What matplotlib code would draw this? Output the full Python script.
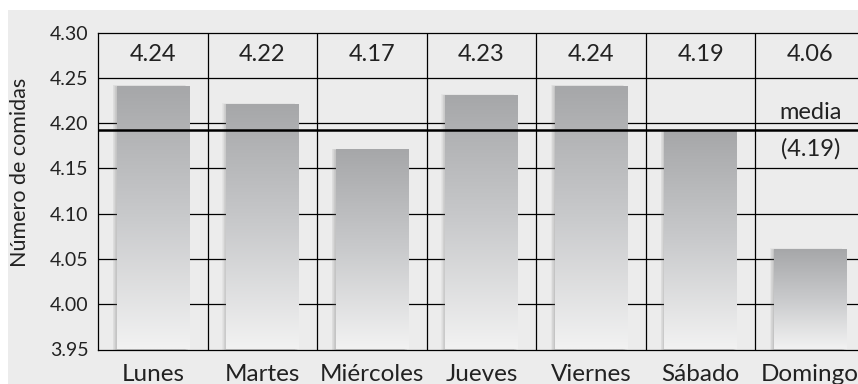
import numpy as np
import matplotlib.pyplot as plt
from matplotlib.patches import Rectangle
from matplotlib.colors import LinearSegmentedColormap

dias = ["Lunes", "Martes", "Miércoles", "Jueves", "Viernes", "Sábado", "Domingo"]
comidas = [4.24, 4.22, 4.17, 4.23, 4.24, 4.19, 4.06]
yticks = [3.95, 4.00, 4.05, 4.10, 4.15, 4.20, 4.25, 4.30]

plt.rcParams['font.family'] = ['Lato', 'DejaVu Sans']

ymin, ymax = 3.95, 4.30
media = np.mean(comidas)
txt = "#222222"

fig = plt.figure(figsize=(8.58, 3.84), dpi=100)
fig.patches.append(Rectangle((8 / 858, 0), 1, 374 / 384, transform=fig.transFigure,
                             facecolor="#ececec", edgecolor="none", zorder=-10))
ax = fig.add_axes([98 / 858, 34.5 / 384, 767 / 858, 317 / 384])
ax.set_facecolor("none")

x = np.arange(len(dias))
w = 0.66

# vertical gradient used for every bar (dark on top, light at the base)
grad = np.linspace(0, 1, 256).reshape(-1, 1)
cmap = LinearSegmentedColormap.from_list("barra", ["#a6a7a9", "#c9cacc", "#f2f2f2"])

for xi, v in zip(x, comidas):
    # soft shadow on the left and top edges
    for k in range(6):
        d = 0.006 * (k + 1)
        ax.add_patch(Rectangle((xi - w / 2 - d, ymin), w, v - ymin + d * 0.05,
                               facecolor="#707070", alpha=0.06, edgecolor="none", zorder=2))
    ax.imshow(grad, extent=(xi - w / 2, xi + w / 2, ymin, v), aspect="auto",
              cmap=cmap, origin="upper", zorder=3, interpolation="bilinear")

# grid lines behind the bars
for t in yticks[1:-2]:
    ax.axhline(t, color="black", lw=0.9, zorder=1)
ax.axhline(4.25, color="black", lw=0.9, zorder=4)
for b in np.arange(0.5, len(dias) - 0.5, 1):
    ax.axvline(b, color="black", lw=0.9, zorder=4)

# mean line
ax.axhline(media, color="black", lw=1.8, zorder=5)
ax.text(6, 4.2005, "media", ha="center", va="bottom", fontsize=17, color=txt, zorder=6)
ax.text(6, 4.172, f"({media:.2f})", ha="center", va="center", fontsize=17, color=txt, zorder=6)

# values in the top row
for xi, v in zip(x, comidas):
    ax.text(xi, 4.276, f"{v:.2f}", ha="center", va="center", fontsize=17, color=txt)

ax.set_xlim(-0.5, len(dias) - 0.5)
ax.set_ylim(ymin, ymax)
ax.set_yticks(yticks)
ax.set_yticklabels([f"{t:.2f}" for t in yticks], fontsize=14, color=txt)
ax.set_xticks(x)
ax.set_xticklabels(dias, fontsize=17.5, color=txt)
ax.tick_params(axis="both", length=0)
ax.tick_params(axis="y", pad=7)
ax.tick_params(axis="x", pad=10.5)
for s in ax.spines.values():
    s.set_linewidth(0.9)
ax.set_ylabel("Número de comidas", fontsize=15.5, color=txt)
ax.yaxis.set_label_coords(-0.0887, 0.558)

plt.savefig("out.png", dpi=100)
